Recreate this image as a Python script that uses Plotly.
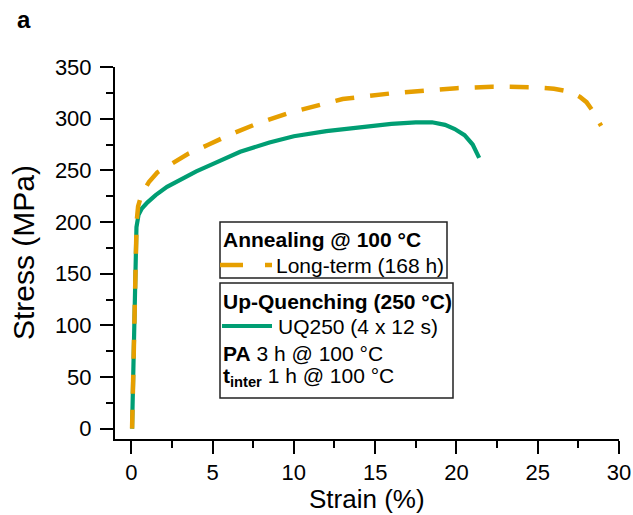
import plotly.graph_objects as go

# Tensile curves (engineering strain in %, stress in MPa)
strain_uq250 = [0.05, 0.12, 0.18, 0.25, 0.32, 0.45, 0.65, 1.0, 1.5, 2.2, 3.0, 4.0, 5.0,
                6.7, 8.5, 10.0, 12.0, 14.0, 16.0, 17.5, 18.5, 19.3, 19.9, 20.5, 21.0, 21.4]
stress_uq250 = [0, 60, 120, 170, 195, 207, 213, 219, 226, 234, 241, 249, 256,
                268, 277, 283, 288, 292, 295, 296.5, 296.5, 294, 290, 284, 275, 262]

strain_longterm = [0.05, 0.12, 0.18, 0.26, 0.33, 0.42, 0.6, 0.8, 1.1, 1.6, 2.6, 3.5, 4.7,
                   6.0, 7.7, 9.8, 12.0, 13.0, 16.0, 18.0, 20.0, 22.2, 24.5, 26.0, 27.0,
                   27.6, 28.0, 28.4, 28.65, 28.9]
stress_longterm = [0, 60, 120, 170, 200, 215, 225, 231, 239, 248, 257, 266, 274.5,
                   284, 295, 306, 315, 319, 324.5, 327, 329.5, 331, 330.5, 329, 326,
                   321, 316, 307, 300, 293]

x_ticks = [0, 5, 10, 15, 20, 25, 30]
y_ticks = [0, 50, 100, 150, 200, 250, 300, 350]

ORANGE = "#E69F00"
GREEN = "#009E73"
FONT = "Arial, 'Liberation Sans', sans-serif"

W, H = 633, 515
ML, MR, MT, MB = 115, 14, 67, 76
PW, PH = W - ML - MR, H - MT - MB


def px(x):
    return (x - ML) / PW


def py(y):
    return (H - MB - y) / PH


fig = go.Figure()
fig.add_trace(go.Scatter(
    x=strain_uq250, y=stress_uq250, mode="lines",
    line=dict(color=GREEN, width=4.2), showlegend=False,
))
fig.add_trace(go.Scatter(
    x=strain_longterm, y=stress_longterm, mode="lines",
    line=dict(color=ORANGE, width=4.5, dash="19px,16px"), showlegend=False,
))

axis_common = dict(
    showgrid=False, zeroline=False, showline=True, linecolor="black", linewidth=2,
    ticks="outside", tickwidth=2, tickcolor="black", ticklen=13,
    tickfont=dict(family=FONT, size=22, color="black"),
    automargin=False,
)

fig.update_xaxes(
    range=[-1, 30], tickvals=x_ticks,
    minor=dict(dtick=2.5, ticks="outside", ticklen=7, tickwidth=2, tickcolor="black"),
    **axis_common,
)
fig.update_yaxes(
    range=[-10, 350], tickvals=y_ticks,
    minor=dict(dtick=25, ticks="outside", ticklen=7, tickwidth=2, tickcolor="black"),
    ticklabelstandoff=4,
    **axis_common,
)

shapes = []
annotations = []

# Legend boxes
box_line = dict(color="#222222", width=1.5)
shapes.append(dict(type="rect", xref="paper", yref="paper",
                   x0=px(220), x1=px(447), y0=py(278), y1=py(222), line=box_line))
shapes.append(dict(type="rect", xref="paper", yref="paper",
                   x0=px(220), x1=px(453), y0=py(398), y1=py(283), line=box_line))

# Legend line samples
shapes.append(dict(type="line", xref="paper", yref="paper",
                   x0=px(220), x1=px(272), y0=py(265), y1=py(265),
                   line=dict(color=ORANGE, width=4.5, dash="23px,22px")))
shapes.append(dict(type="line", xref="paper", yref="paper",
                   x0=px(222), x1=px(272), y0=py(326), y1=py(326),
                   line=dict(color=GREEN, width=4.2)))


def label(text, x, y, size=21, angle=0, xanchor="left"):
    annotations.append(dict(
        text=text, xref="paper", yref="paper", x=px(x), y=py(y),
        xanchor=xanchor, yanchor="middle", showarrow=False, textangle=angle,
        font=dict(family=FONT, size=size, color="black"),
    ))


label("<b>Annealing @ 100 °C</b>", 221, 239)
label("Long-term (168 h)", 274, 265)
label("<b>Up-Quenching (250 °C)</b>", 221, 301)
label("UQ250 (4 x 12 s)", 276, 326)
label("<b>PA</b> 3 h @ 100 °C", 221, 353)
label("<b>t<sub>inter</sub></b> 1 h @ 100 °C", 221, 377)

# Axis titles
label("Strain (%)", (ML + W - MR) / 2, 499, size=26, xanchor="center")
label("Stress (MPa)", 23, 253, size=30, angle=-90, xanchor="center")

# Panel letter
label("<b>a</b>", 15, 20, size=24)

fig.update_layout(
    width=W, height=H,
    margin=dict(l=ML, r=MR, t=MT, b=MB, autoexpand=False),
    paper_bgcolor="white", plot_bgcolor="white",
    shapes=shapes, annotations=annotations,
    showlegend=False,
)

fig.write_html("out.html")
